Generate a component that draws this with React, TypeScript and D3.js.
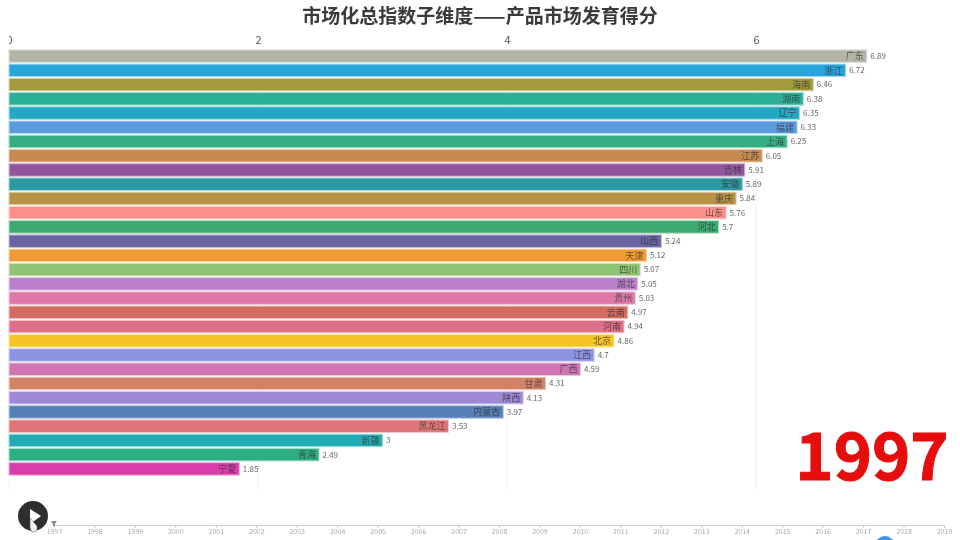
import React, { useEffect, useRef } from 'react';
import * as d3 from 'd3';

const provinces = ['广东', '浙江', '海南', '湖南', '辽宁', '福建', '上海', '江苏', '吉林', '安徽', '重庆', '山东', '河北', '山西', '天津', '四川', '湖北', '贵州', '云南', '河南', '北京', '江西', '广西', '甘肃', '陕西', '内蒙古', '黑龙江', '新疆', '青海', '宁夏'];
const scores = [6.89, 6.72, 6.46, 6.38, 6.35, 6.33, 6.25, 6.05, 5.91, 5.89, 5.84, 5.76, 5.7, 5.24, 5.12, 5.07, 5.05, 5.03, 4.97, 4.94, 4.86, 4.7, 4.59, 4.31, 4.13, 3.97, 3.53, 3, 2.49, 1.85];
const barColors = ['#b2b5a6', '#25a5da', '#a3993d', '#2bae97', '#24a9c4', '#5a9be0', '#35ae84', '#c78a50', '#92559e', '#2a9aa0', '#b79146', '#fd8f8a', '#3aaa70', '#6a63a3', '#ef9a35', '#8fc374', '#bb7fcc', '#dd78a8', '#d36c60', '#de7088', '#f6c425', '#8c94e2', '#cf75b2', '#d38267', '#9e88d8', '#5580b8', '#de7679', '#23adb3', '#2bae80', '#d93daa'];
const valueTicks = [0, 2, 4, 6];
const years = d3.range(1997, 2020).map(String);

const FONT = '"Noto Sans CJK SC", "Noto Sans", sans-serif';

export default function App() {
  const node = useRef<SVGSVGElement>(null);

  useEffect(() => {
    const svg = d3.select(node.current);
    svg.selectAll('*').remove();

    const x = d3.scaleLinear().domain([0, 6]).range([9, 756]);
    const y = d3.scaleBand().domain(provinces).range([49, 476]).paddingInner(0.12).paddingOuter(0.06);
    const time = d3.scalePoint().domain(years).range([54, 944]);

    svg.append('text')
      .attr('x', 480).attr('y', 23)
      .attr('text-anchor', 'middle')
      .attr('font-size', 19).attr('font-weight', 700)
      .attr('fill', '#3a3a3a')
      .text('市场化总指数子维度——产品市场发育得分');

    // the first tick label is cut by the chart's left edge in the original
    svg.append('clipPath').attr('id', 'axisClip')
      .append('rect').attr('x', 9).attr('y', -24).attr('width', 940).attr('height', 24);

    // value axis on top, ticks run down as grid lines
    const xAxis = svg.append('g')
      .attr('transform', 'translate(0,49)')
      .attr('clip-path', 'url(#axisClip)')
      .call(d3.axisTop(x).tickValues(valueTicks).tickSize(0).tickPadding(5).tickFormat(d3.format('d')));
    xAxis.select('.domain').remove();
    xAxis.selectAll('text').attr('font-size', 11).attr('font-family', FONT).attr('fill', '#555');

    svg.append('g')
      .selectAll('line')
      .data(valueTicks)
      .join('line')
      .attr('x1', d => x(d)).attr('x2', d => x(d))
      .attr('y1', 49).attr('y2', 490)
      .attr('stroke', '#f0f0f0');

    const rows = svg.append('g')
      .selectAll('g')
      .data(provinces)
      .join('g');

    rows.append('rect')
      .attr('x', x(0))
      .attr('y', d => y(d) as number)
      .attr('width', (_, i) => x(scores[i]) - x(0))
      .attr('height', y.bandwidth())
      .attr('fill', (_, i) => barColors[i])
      .attr('stroke', (_, i) => d3.interpolateRgb(barColors[i], '#fff')(0.6))
      .attr('stroke-width', 1);

    rows.append('text')
      .attr('x', (_, i) => x(scores[i]) - 3)
      .attr('y', d => (y(d) as number) + y.bandwidth() / 2)
      .attr('dy', '0.36em')
      .attr('text-anchor', 'end')
      .attr('font-size', 9)
      .attr('fill', '#333')
      .attr('fill-opacity', 0.75)
      .text(d => d);

    rows.append('text')
      .attr('x', (_, i) => x(scores[i]) + 3.5)
      .attr('y', d => (y(d) as number) + y.bandwidth() / 2)
      .attr('dy', '0.36em')
      .attr('font-size', 8)
      .attr('fill', '#666')
      .text((_, i) => scores[i]);

    svg.append('text')
      .attr('x', 872).attr('y', 480)
      .attr('text-anchor', 'middle')
      .attr('font-size', 65).attr('font-weight', 700)
      .attr('fill', '#e60d0d')
      .attr('stroke', '#e60d0d')
      .attr('stroke-width', 1)
      .text(years[0]);

    // timeline
    const timeAxis = svg.append('g')
      .attr('transform', 'translate(0,525)')
      .call(d3.axisBottom(time).tickSize(3).tickPadding(1));
    timeAxis.select('.domain').attr('stroke', '#ccc');
    timeAxis.selectAll('line').attr('stroke', '#ccc');
    timeAxis.selectAll('text').attr('font-size', 7).attr('font-family', FONT).attr('fill', '#aaa');

    svg.append('path')
      .attr('d', 'M51 521h6l-2 3v2h-2v-2z')
      .attr('fill', '#888');

    // play button with the cursor on it
    svg.append('circle').attr('cx', 33).attr('cy', 516).attr('r', 15).attr('fill', '#2e2e2e');
    svg.append('path').attr('d', 'M30 509l11 7-11 8z').attr('fill', '#fff');
    svg.append('path').attr('d', 'M30 518l7 8v4l-3 2h-2l-2-4z').attr('fill', '#f2f2f2').attr('stroke', '#555').attr('stroke-width', 0.5);

    svg.append('circle').attr('cx', 885).attr('cy', 546).attr('r', 10).attr('fill', '#3c96f0');
  }, []);

  return (
    <svg
      ref={node}
      width={960}
      height={540}
      fontFamily={FONT}
      style={{ position: 'absolute', left: 0, top: 0, background: '#fff', filter: 'blur(0.4px)' }}
    />
  );
}
